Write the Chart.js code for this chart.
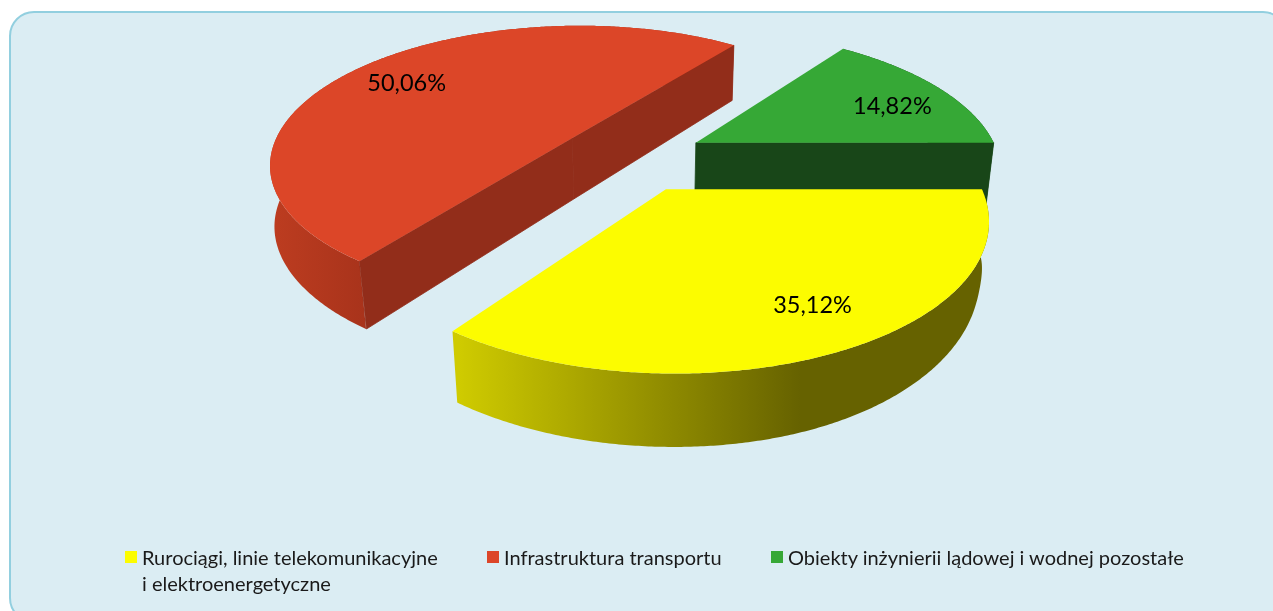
<!DOCTYPE html>
<html lang="pl">
<head>
<meta charset="utf-8">
<title>Wykres</title>
<script src="https://cdn.jsdelivr.net/npm/chart.js@4"></script>
<style>
html,body{margin:0;padding:0;background:#fff;width:1273px;height:611px;overflow:hidden;font-family:Lato,sans-serif}
#card{position:absolute;left:9px;top:11px;width:1279px;height:612px;box-sizing:border-box;background:#DBEDF3;border:2px solid #92CFDF;border-radius:25px}
canvas{position:absolute;left:0;top:0}
.lg{position:absolute;font-size:20px;line-height:26px;color:#1a1a1a;white-space:pre}
.sw{position:absolute;width:12px;height:12px}
</style>
</head>
<body>
<div id="card"></div>
<canvas id="c" width="1273" height="611"></canvas>
<div id="legend"></div>
<script>
const categories = ["Rurociągi, linie telekomunikacyjne\ni elektroenergetyczne", "Infrastruktura transportu", "Obiekty inżynierii lądowej i wodnej pozostałe"];
const shares = [35.12, 50.06, 14.82];
const shareLabels = ["35,12%", "50,06%", "14,82%"];
const topColors = ["#FCFC00", "#DC4628", "#36A836"];
const flatWallColors = ["#666200", "#922D1A", "#184618"];
const curveWallStops = [
  [[459, "#CFCB00"], [800, "#666200"]],
  [[275, "#BC3C20"], [367, "#A8331B"]],
  [[700, "#184618"], [1000, "#184618"]]
];
const legendX = [125, 487, 771];

// Perspective camera for the tilted pie plane (in radius units).
const cam = {x0: 625, horizon: -620, k: 0.3905, B: 1703, cx: 0.019, cq: 5.608, explode: 0.245,
             nadirX: 642, nadirY: 3000, depth: 7.2e-5, labelR: 0.78};
const labelNudge = [[13, -4], [2, 2], [5, 8]];

// How strongly the rim's lower edge converges, compared with the straight edges.
function rimWeight(angle) {
  if (angle > Math.PI * 1.5) return 1;
  const c = Math.cos(angle);
  if (c < 0) return 1 - 0.5 * Math.pow(c, 4);
  return 1 + 0.7 * Math.sin(2 * angle) - 0.7 * Math.pow(c, 64);
}
function project(mid, angle, r, bottom, rim) {
  const X = cam.cx + cam.explode * Math.cos(mid) + r * Math.cos(angle);
  const q = cam.cq - cam.explode * Math.sin(mid) - r * Math.sin(angle);
  const s = cam.B / q;
  let x = cam.x0 + s * X, y = s / cam.k + cam.horizon;
  if (bottom) {
    const t = cam.depth * s;
    const w = rim ? rimWeight(angle) : 1;
    x += t * w * (cam.nadirX - x);
    y += t * (cam.nadirY - y);
  }
  return [x, y];
}
function arcPts(mid, a0, a1, bottom) {
  const n = Math.ceil(Math.abs(a1 - a0) / (Math.PI / 360)), pts = [];
  for (let i = 0; i <= n; i++) pts.push(project(mid, a0 + (a1 - a0) * i / n, 1, bottom, true));
  return pts;
}
function fillPoly(ctx, pts, fill, seal) {
  ctx.beginPath();
  pts.forEach((p, i) => i ? ctx.lineTo(p[0], p[1]) : ctx.moveTo(p[0], p[1]));
  ctx.closePath();
  ctx.fillStyle = fill;
  ctx.fill();
  if (seal) { ctx.strokeStyle = fill; ctx.lineWidth = 0.8; ctx.stroke(); }
}
function side(a, b, p) { return (b[0] - a[0]) * (p[1] - a[1]) - (b[1] - a[1]) * (p[0] - a[0]); }
const pie3d = {
  id: 'pie3d',
  beforeDatasetsDraw(chart) {
    const ctx = chart.ctx, arcs = chart.getDatasetMeta(0).data;
    ctx.save();
    // paint back to front
    const order = arcs.map((el, i) => i).sort((a, b) =>
      Math.sin((arcs[a].startAngle + arcs[a].endAngle) / 2) - Math.sin((arcs[b].startAngle + arcs[b].endAngle) / 2));
    for (const i of order) {
      const el = arcs[i], a0 = el.startAngle, a1 = el.endAngle, mid = (a0 + a1) / 2;
      const stops = curveWallStops[i];
      const g = ctx.createLinearGradient(stops[0][0], 0, stops[1][0], 0);
      g.addColorStop(0, stops[0][1]); g.addColorStop(1, stops[1][1]);
      fillPoly(ctx, arcPts(mid, a0, a1, false).concat(arcPts(mid, a1, a0, true)), g);
      const cT = project(mid, 0, 0, false), cB = project(mid, 0, 0, true);
      const inner = project(mid, mid, 0.5, false);
      for (const a of [a0, a1]) {
        const p = project(mid, a, 1, false);
        // only a wall that faces the viewer is painted
        if (side(cT, p, inner) * side(cT, p, cB) < 0) {
          fillPoly(ctx, [cT, p, project(mid, a, 1, true), cB], flatWallColors[i], true);
        }
      }
      fillPoly(ctx, [cT].concat(arcPts(mid, a0, a1, false)), topColors[i]);
    }
    ctx.fillStyle = '#000';
    ctx.font = '23.5px Lato';
    ctx.textAlign = 'center';
    ctx.textBaseline = 'middle';
    arcs.forEach((el, i) => {
      const mid = (el.startAngle + el.endAngle) / 2;
      const p = project(mid, mid, cam.labelR, false);
      ctx.fillText(shareLabels[i], p[0] + labelNudge[i][0], p[1] + labelNudge[i][1]);
    });
    ctx.restore();
    return false;
  }
};
new Chart(document.getElementById('c'), {
  type: 'pie',
  data: {labels: categories, datasets: [{data: shares, backgroundColor: topColors, borderWidth: 0}]},
  options: {
    responsive: false, animation: false, rotation: 90,
    plugins: {legend: {display: false}, tooltip: {enabled: false}}
  },
  plugins: [pie3d]
});
const lg = document.getElementById('legend');
categories.forEach((name, i) => {
  const sw = document.createElement('div');
  sw.className = 'sw';
  sw.style.cssText = `left:${legendX[i]}px;top:551px;background:${topColors[i]}`;
  lg.appendChild(sw);
  const t = document.createElement('div');
  t.className = 'lg';
  t.style.cssText = `left:${legendX[i] + 17}px;top:544px`;
  t.textContent = name;
  lg.appendChild(t);
});
</script>
</body>
</html>
